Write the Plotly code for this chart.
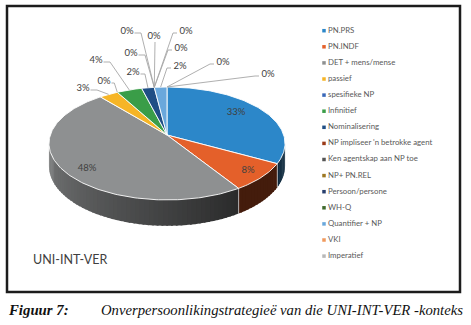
import numpy as np
import plotly.graph_objects as go

# ---------------- data ----------------
categories = ["PN.PRS", "PN.INDF", "DET + mens/mense", "passief", "spesifieke NP",
              "Infinitief", "Nominalisering", "NP impliseer 'n betrokke agent",
              "Ken agentskap aan NP toe", "NP+ PN.REL", "Persoon/persone", "WH-Q",
              "Quantifier + NP", "VKI", "Imperatief"]
values = [33, 8, 48, 3, 0, 4, 2, 0, 0, 0, 0, 0, 2, 0, 0]
colors = ["#2C87C9", "#E4602A", "#8E9091", "#F6B526", "#3A68B8", "#3A9D48", "#1F4E85",
          "#9A3A18", "#555555", "#9C7722", "#283F6E", "#3F6A2C", "#6AA8DC", "#F09A5E",
          "#B8B8B8"]
chart_title = "UNI-INT-VER"
caption_label = "Figuur 7:"
caption_text = "Onverpersoonlikingstrategieë van die UNI-INT-VER -konteks"

# ---------------- layout (pixel space) ----------------
W, H = 471, 325
CX, CY = 167.0, 135.0        # apex of the pie on screen
A, B, K = 116.7, 55.2, 0.15  # ellipse radii and perspective factor
T = 22.0                     # thickness
# text positions of the data labels (centre), one per category
LABEL_XY = [(236, 113), (248, 171), (87, 169), (83, 89), (104, 82), (96, 61),
            (133, 73), (131, 54), (127, 32), (154, 37), (186, 32), (181, 49),
            (180, 67), (223, 63), (268, 75)]
INSIDE = [True, True, True] + [False] * 12

def proj(r, theta_deg):
    t = np.radians(theta_deg)
    u = r * np.sin(t)
    v = -r * np.cos(t)
    s = 1.0 / (1.0 - K * v)
    return CX + A * u * s, CY + B * v * s, s

def shade(hexc, f):
    h = hexc.lstrip("#")
    r, g, b = int(h[0:2], 16), int(h[2:4], 16), int(h[4:6], 16)
    return "rgb(%d,%d,%d)" % (r * f, g * f, b * f)

total = float(sum(values))
starts, ends = [], []
acc = 0.0
for v in values:
    starts.append(acc / total * 360.0)
    acc += v
    ends.append(acc / total * 360.0)

fig = go.Figure()

# ---- side walls (visible front part) ----
lo = np.degrees(np.arccos(-K))
hi = 360.0 - lo
for i, (a, b) in enumerate(zip(starts, ends)):
    a2, b2 = max(a, lo), min(b, hi)
    if b2 <= a2:
        continue
    n = max(1, int(np.ceil((b2 - a2) / 2.0)))
    edges = np.linspace(a2, b2, n + 1)
    for j, (t0, t1) in enumerate(zip(edges[:-1], edges[1:])):
        t1e = t1 + 0.8 if j < n - 1 else t1
        ts = np.linspace(t0, t1e, 4)
        top = [proj(1, t) for t in ts]
        xs = [p[0] for p in top] + [p[0] for p in top[::-1]]
        ys = [p[1] - 1 for p in top] + [p[1] + T * p[2] for p in top[::-1]]
        mid = 0.5 * (t0 + t1)
        f = min(0.85, max(0.3, 0.3 + (mid - 148.0) * 0.00486))
        c = shade(colors[i], f)
        fig.add_trace(go.Scatter(x=xs, y=ys, mode="lines", fill="toself",
                                 fillcolor=c, line=dict(width=0),
                                 hoverinfo="skip", showlegend=False))
    # light seam at slice boundaries on the side
    for t in (a, b):
        if lo < t < hi:
            x0, y0, s0 = proj(1, t)
            fig.add_trace(go.Scatter(x=[x0, x0], y=[y0, y0 + T * s0], mode="lines",
                                     line=dict(color="rgba(255,255,255,0.55)", width=0.8),
                                     hoverinfo="skip", showlegend=False))

# ---- top faces ----
for i, (a, b) in enumerate(zip(starts, ends)):
    if b - a <= 0:
        continue
    ts = np.linspace(a, b, max(3, int((b - a) / 1.0) + 2))
    pts = [proj(1, t) for t in ts]
    xs = [CX] + [p[0] for p in pts] + [CX]
    ys = [CY] + [p[1] for p in pts] + [CY]
    fig.add_trace(go.Scatter(x=xs, y=ys, mode="lines", fill="toself",
                             fillcolor=colors[i], line=dict(color="white", width=0.9),
                             hoverinfo="skip", showlegend=False))

# ---- leader lines ----
for i, (a, b) in enumerate(zip(starts, ends)):
    if INSIDE[i]:
        continue
    lx, ly = LABEL_XY[i]
    ex, ey, _ = proj(1, 0.5 * (a + b))
    if abs(ex - lx) < 6:
        xs, ys = [lx + 1, ex], [ly + 5, ey]
    elif lx < ex:
        ax_, el = lx + 7.5, min(lx + 14, ex - 3)
        xs, ys = ([ax_, el, ex], [ly + 1, ly + 1, ey]) if el > ax_ else ([ax_, ex], [ly + 1, ey])
    else:
        ax_, el = lx - 9, max(lx - 13, ex + 3)
        xs, ys = ([ax_, el, ex], [ly + 1, ly + 1, ey]) if el < ax_ else ([ax_, ex], [ly + 1, ey])
    fig.add_trace(go.Scatter(x=xs, y=ys, mode="lines",
                             line=dict(color="#A6A6A6", width=0.9),
                             hoverinfo="skip", showlegend=False))

# ---- data labels ----
pct = ["%d%%" % round(v / total * 100) for v in values]
fig.add_trace(go.Scatter(x=[p[0] for p in LABEL_XY], y=[p[1] for p in LABEL_XY],
                         mode="text", text=pct, textposition="middle center",
                         textfont=dict(family="Lato", size=9.5, color="#404040"),
                         hoverinfo="skip", showlegend=False))

# ---- legend ----
LEG_X, LEG_Y0, LEG_DY = 324, 30.7, 16.1
ly_list = [LEG_Y0 + k * LEG_DY for k in range(len(categories))]
fig.add_trace(go.Scatter(x=[LEG_X] * len(categories), y=ly_list, mode="markers",
                         marker=dict(symbol="square", size=3.5, color=colors),
                         hoverinfo="skip", showlegend=False))
fig.add_trace(go.Scatter(x=[LEG_X + 4] * len(categories), y=ly_list, mode="text",
                         text=categories, textposition="middle right",
                         textfont=dict(family="Lato", size=7.8, color="#595959"),
                         hoverinfo="skip", showlegend=False))

fig.add_shape(type="rect", x0=7, y0=6, x1=460, y1=292, xref="x", yref="y",
              line=dict(color="#1C1C1C", width=2.5), fillcolor="rgba(0,0,0,0)")

fig.add_annotation(x=31, y=259, xref="x", yref="y", text=chart_title, showarrow=False,
                   xanchor="left", yanchor="middle",
                   font=dict(family="Lato", size=12.5, color="#404040"))
fig.add_annotation(x=6, y=310, xref="x", yref="y", text="<b><i>%s</i></b>" % caption_label,
                   showarrow=False, xanchor="left", yanchor="middle",
                   font=dict(family="Liberation Serif", size=14.8, color="#111111"))
fig.add_annotation(x=99, y=310, xref="x", yref="y", text="<i>%s</i>" % caption_text,
                   showarrow=False, xanchor="left", yanchor="middle",
                   font=dict(family="Liberation Serif", size=14.7, color="#111111"))

fig.update_layout(width=W, height=H, margin=dict(l=0, r=0, t=0, b=0),
                  paper_bgcolor="white", plot_bgcolor="white",
                  xaxis=dict(range=[0, W], visible=False, fixedrange=True),
                  yaxis=dict(range=[H, 0], visible=False, fixedrange=True))

fig.write_html("out.html", config={"displayModeBar": False},
               post_script="document.body.style.margin='0px';document.body.style.overflow='hidden';")
